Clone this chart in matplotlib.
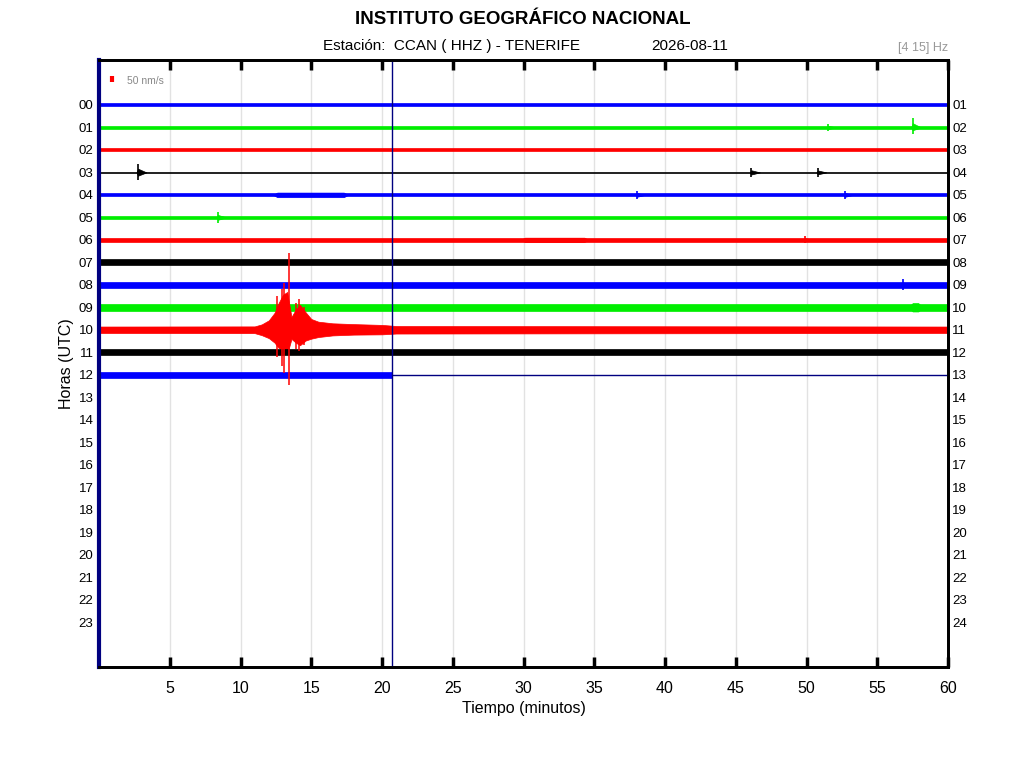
import matplotlib.pyplot as plt

plt.rcParams['font.family'] = ['Liberation Sans', 'DejaVu Sans']

# hour labels
hours_left = ["%02d" % h for h in range(24)]
hours_right = ["%02d" % h for h in range(1, 25)]
minute_ticks = list(range(5, 61, 5))
trace_colors = ['#0000ff', '#00ee00', '#ff0000', '#000000']

# half width of the noise band for each recorded hour (nm/s)
base_amp = [11, 13, 11, 6, 11, 11, 13, 21, 21, 27, 24, 22, 22]
last_minute = 20.7

# stretches with more noise
burst_row = [4, 6, 9]
burst_start = [12.3, 29.8, 57.2]
burst_end = [17.6, 34.6, 58.2]
burst_amp = [17, 16, 31]

# small local events (row, minute, up, down) in nm/s
spike_row = [3, 3, 3, 4, 4, 5, 1, 1, 6, 8]
spike_min = [2.75, 46.1, 50.8, 38.0, 52.7, 8.4, 51.5, 57.5, 49.9, 56.8]
spike_up = [62, 35, 32, 32, 32, 40, 28, 70, 27, 40]
spike_down = [55, 35, 32, 32, 32, 40, 28, 46, 27, 40]

# earthquake envelope on hour 10 (nm/s)
quake_row = 10
quake_min = [0.0, 11.0, 11.5, 12.0, 12.4, 12.7, 13.0, 13.3, 13.6, 13.9, 14.2,
             14.6, 15.0, 15.5, 16.5, 18.0, 20.0, 21.0, 60.0]
quake_up = [24, 25, 40, 70, 125, 200, 260, 280, 95, 150, 185,
            130, 80, 60, 48, 42, 36, 28, 24]
quake_down = [24, 25, 40, 62, 95, 135, 150, 180, 68, 95, 115,
              80, 66, 54, 42, 36, 34, 28, 24]
quake_spike_min = [12.6, 12.9, 13.1, 13.45, 13.95, 14.15, 14.5]
quake_spike_up = [250, 300, 346, 570, 200, 231, 170]
quake_spike_down = [200, 270, 323, 408, 140, 154, 110]

scale_nms = 50
rows_per_nms = 0.3 / scale_nms
navy = '#000080'

fig = plt.figure(figsize=(10.24, 7.68), dpi=100)
ax = fig.add_axes([0.0967, 0.1315, 0.8291, 0.7904])
ax.set_xlim(0, 60)
ax.set_ylim(25, -2)

for m in minute_ticks[:-1]:
    ax.axvline(m, color='#e2e2e2', lw=1, zorder=0)

for r, a in enumerate(base_amp):
    c = trace_colors[r % 4]
    end = last_minute if r == len(base_amp) - 1 else 60
    if r == quake_row:
        lo = [r - u * rows_per_nms for u in quake_up]
        hi = [r + d * rows_per_nms for d in quake_down]
        ax.fill_between(quake_min, lo, hi, color=c, lw=0.5, zorder=2)
    else:
        h = a * rows_per_nms
        ax.fill_between([0, end], [r - h] * 2, [r + h] * 2, color=c, lw=0.5,
                        zorder=2)

for r, t0, t1, a in zip(burst_row, burst_start, burst_end, burst_amp):
    c = trace_colors[r % 4]
    h = a * rows_per_nms
    ax.fill_between([t0, t0 + 0.3, t1 - 0.3, t1], [r, r - h, r - h, r],
                    [r, r + h, r + h, r], color=c, lw=0.5, zorder=2)

for r, t, u, d in zip(spike_row, spike_min, spike_up, spike_down):
    c = trace_colors[r % 4]
    ax.vlines(t, r - u * rows_per_nms, r + d * rows_per_nms, color=c, lw=1.2,
              zorder=3)
    ax.fill_between([t - 0.1, t, t + 0.6],
                    [r, r - 0.45 * u * rows_per_nms, r],
                    [r, r + 0.45 * d * rows_per_nms, r], color=c, lw=0.5,
                    zorder=3)

for t, u, d in zip(quake_spike_min, quake_spike_up, quake_spike_down):
    ax.vlines(t, quake_row - u * rows_per_nms, quake_row + d * rows_per_nms,
              color=trace_colors[quake_row % 4], lw=1.1, zorder=3)

# current time marker and pending line
ax.axvline(last_minute, color=navy, lw=1, zorder=4)
ax.hlines(len(base_amp) - 1, last_minute, 60, color=navy, lw=1, zorder=4)

# amplitude scale
ax.vlines(0.95, -1.0 - scale_nms * rows_per_nms, -1.0, color='red', lw=3)
ax.text(1.95, -1.05, "%d nm/s" % scale_nms, color='#888888', fontsize=7.5,
        va='center')

ax.set_xticks(minute_ticks)
ax.set_xticklabels([str(m) for m in minute_ticks], fontsize=11.5)
ax.tick_params(axis='x', direction='in', length=7, width=2.5, top=True,
               pad=10)
ax.set_yticks(range(24))
ax.set_yticklabels(hours_left, fontsize=9.5)
ax.tick_params(axis='y', length=0, pad=4)
axr = ax.twinx()
axr.set_ylim(25, -2)
axr.set_yticks(range(24))
axr.set_yticklabels(hours_right, fontsize=9.5)
axr.tick_params(axis='y', length=0, pad=3)

for s in ['top', 'bottom', 'right']:
    ax.spines[s].set_linewidth(2)
    axr.spines[s].set_linewidth(2)
axr.spines['left'].set_visible(False)
ax.spines['left'].set_color(navy)
ax.spines['left'].set_linewidth(3)

ax.set_xlabel("Tiempo (minutos)", fontsize=11.5, labelpad=4)
ax.set_ylabel("Horas (UTC)", fontsize=11.5, labelpad=3)

fig.text(0.511, 0.975, "INSTITUTO GEOGRÁFICO NACIONAL", fontsize=13.5,
         fontweight='bold', ha='center', va='center')
fig.text(0.441, 0.94, "Estación:  CCAN ( HHZ ) - TENERIFE", fontsize=11,
         ha='center', va='center')
fig.text(0.674, 0.94, "2026-08-11", fontsize=11, ha='center', va='center')
fig.text(0.926, 0.937, "[4 15] Hz", fontsize=9, color='#999999', ha='right',
         va='center')

fig.savefig("out.png", dpi=100)
